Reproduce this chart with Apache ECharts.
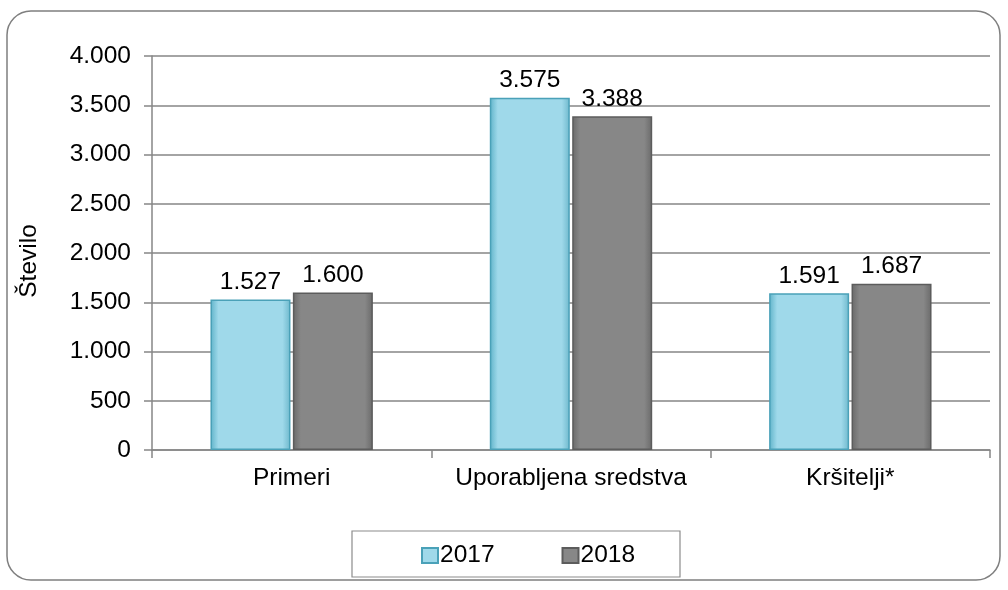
<!DOCTYPE html>
<html><head><meta charset="utf-8">
<script src="https://cdn.jsdelivr.net/npm/echarts@6/dist/echarts.min.js"></script>
<style>html,body{margin:0;padding:0;background:#fff}#c{width:1008px;height:590px}</style>
</head><body><div id="c"></div>
<script>
const categories = ['Primeri', 'Uporabljena sredstva', 'Kršitelji*'];
const series2017 = [1527, 3575, 1591];
const series2018 = [1600, 3388, 1687];
const seriesNames = ['2017', '2018'];
const yTicks = [0, 500, 1000, 1500, 2000, 2500, 3000, 3500, 4000];

const fmt = v => String(v).replace(/\B(?=(\d{3})+(?!\d))/g, '.');
const font = 'Liberation Sans, Arial, sans-serif';
const fs = 24.5;

const chart = echarts.init(document.getElementById('c'), null, {renderer: 'canvas'});
const grad = (a, b, c) => new echarts.graphic.LinearGradient(0, 0, 1, 0, [
  {offset: 0, color: a}, {offset: 0.1, color: b}, {offset: 0.9, color: b}, {offset: 1, color: c}
]);
chart.setOption({
  animation: false,
  textStyle: {fontFamily: font},
  grid: {left: 152, right: 18, top: 56, bottom: 140},
  graphic: [
    {type: 'rect', shape: {x: 7, y: 11, width: 993, height: 569, r: 24}, style: {fill: 'none', stroke: '#7f7f7f', lineWidth: 1.5}, z: -1},
    {type: 'rect', shape: {x: 352, y: 531, width: 328, height: 46}, style: {fill: '#fff', stroke: '#8c8c8c', lineWidth: 1.2}, z: -1}
  ],
  legend: {
    data: seriesNames,
    top: 543, left: 421, padding: 0,
    itemWidth: 16, itemHeight: 15, itemGap: 67,
    icon: 'rect',
    textStyle: {fontSize: fs, color: '#000', fontFamily: font, padding: [0, 0, 0, -3]}
  },
  xAxis: {
    type: 'category', data: categories,
    axisLine: {lineStyle: {color: '#868686', width: 1.5}},
    axisTick: {show: true, interval: 0, length: 8, lineStyle: {color: '#868686', width: 1.5}},
    axisLabel: {interval: 0, fontSize: fs, color: '#000', margin: 16, fontFamily: font}
  },
  yAxis: {
    type: 'value', min: 0, max: 4000, interval: 500,
    name: 'Število', nameLocation: 'middle', nameGap: 110, nameRotate: 90,
    nameTextStyle: {fontSize: fs, color: '#000', fontFamily: font, padding: [0, 16, 0, 0]},
    axisLine: {show: true, lineStyle: {color: '#868686', width: 1.5}},
    axisTick: {show: true, length: 8, lineStyle: {color: '#868686', width: 1.5}},
    axisLabel: {fontSize: fs, color: '#000', margin: 21, formatter: v => fmt(v), fontFamily: font},
    splitLine: {lineStyle: {color: '#868686', width: 1.5}}
  },
  series: [
    {
      name: seriesNames[0], type: 'bar', data: series2017, barWidth: 80, barGap: '3%',
      itemStyle: {color: grad('#5fb3c9', '#9fd9ea', '#6eb8cc'), borderColor: '#4aa1b8', borderWidth: 1.5},
      label: {show: true, position: 'top', distance: 5, fontSize: fs, color: '#000', fontFamily: font, formatter: p => fmt(p.value)}
    },
    {
      name: seriesNames[1], type: 'bar', data: series2018, barWidth: 80,
      itemStyle: {color: grad('#6a6a6a', '#878787', '#6a6a6a'), borderColor: '#5c5c5c', borderWidth: 1.5},
      label: {show: true, position: 'top', distance: 5, fontSize: fs, color: '#000', fontFamily: font, formatter: p => fmt(p.value)}
    }
  ]
});
</script></body></html>
